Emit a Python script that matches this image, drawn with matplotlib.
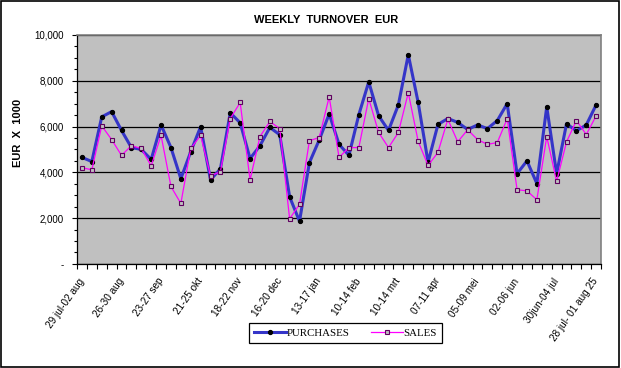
import numpy as np
import matplotlib.pyplot as plt
from matplotlib.ticker import FuncFormatter, MultipleLocator
from matplotlib.patches import Rectangle

plt.rcParams['font.family'] = 'Liberation Sans'

# weekly values, EUR x 1000 (53 weeks)
purchases = [4650, 4470, 6420, 6650, 5830, 5080, 5000, 4560, 6070, 5080,
             3720, 4900, 5990, 3670, 4150, 6600, 6160, 4600, 5160, 5960,
             5640, 2930, 1860, 4420, 5420, 6550, 5220, 4740, 6520, 7950,
             6470, 5830, 6950, 9140, 7050, 4440, 6090, 6350, 6180, 5870,
             6070, 5910, 6260, 7000, 3940, 4500, 3510, 6860, 3940, 6120,
             5810, 6070, 6950]
sales = [4200, 4110, 6030, 5430, 4740, 5160, 5040, 4280, 5610, 3380,
         2640, 5040, 5610, 3850, 4020, 6350, 7050, 3670, 5560, 6220,
         5910, 1970, 2600, 5380, 5520, 7300, 4650, 5080, 5080, 7220,
         5740, 5080, 5740, 7480, 5350, 4300, 4870, 6320, 5330, 5860,
         5430, 5220, 5300, 6340, 3240, 3190, 2800, 5560, 3600, 5330,
         6260, 5650, 6470]
week_labels = ['29 jul-02 aug', '26-30 aug', '23-27 sep', '21-25 okt',
               '18-22 nov', '16-20 dec', '13-17 jan', '10-14 feb',
               '10-14 mrt', '07-11 apr', '05-09 mei', '02-06 jun',
               '30jun-04 jul', '28 jul- 01 aug 25']

x = np.arange(len(purchases))

fig = plt.figure(figsize=(6.21, 3.68), dpi=100)
ax = fig.add_axes([0.124, 0.283, 0.844, 0.622])
ax.set_facecolor('#C0C0C0')

ax.plot(x, purchases, color='#3535C8', lw=2.2, marker='o', ms=2.8,
        mfc='black', mec='black', label='PURCHASES', zorder=3)
ax.plot(x, sales, color='#FF00FF', lw=0.9, marker='s', ms=3.0,
        mfc='#C0C0C0', mec='#600060', mew=0.8, label='SALES', zorder=4)

ax.set_xlim(-0.5, len(x) - 0.5)
ax.set_ylim(0, 10000)

# y axis
ax.yaxis.set_major_locator(MultipleLocator(2000))
ax.yaxis.set_minor_locator(MultipleLocator(500))
ax.yaxis.set_major_formatter(FuncFormatter(lambda v, p: '-' if v == 0 else f'{v:,.0f}'))
ax.grid(axis='y', color='black', lw=0.9)
ax.tick_params(axis='y', which='both', direction='out', length=3.5, width=0.8,
               labelsize=7, pad=6)
ax.tick_params(axis='y', which='minor', length=2.5)

# x axis: ticks between categories, labels every 4 weeks
ax.set_xticks(x[::4])
ax.set_xticklabels(week_labels, rotation=55, ha='right', va='center',
                   rotation_mode='anchor', fontsize=7.2)
ax.set_xticks(np.arange(len(x) + 1) - 0.5, minor=True)
ax.tick_params(axis='x', which='major', length=0, pad=11)
ax.tick_params(axis='x', which='minor', direction='out', length=3.5, width=0.8)

for s in ['top', 'right']:
    ax.spines[s].set_color('#808080')
    ax.spines[s].set_linewidth(1.2)
for s in ['left', 'bottom']:
    ax.spines[s].set_color('black')
    ax.spines[s].set_linewidth(0.9)

fig.text(0.525, 0.946, 'WEEKLY  TURNOVER  EUR', ha='center', va='center',
         fontsize=8, fontweight='bold')
fig.text(0.029, 0.638, 'EUR  X  1000', rotation=90, ha='center', va='center',
         fontsize=8, fontweight='bold')

leg = ax.legend(loc='center', bbox_to_anchor=(0.556, 0.095),
                bbox_transform=fig.transFigure, ncol=2, fancybox=False,
                framealpha=1, edgecolor='black', handlelength=3.0,
                columnspacing=2.0, handletextpad=0.0, borderpad=0.45,
                borderaxespad=0, prop={'family': 'Liberation Serif', 'size': 7.8})
leg.get_frame().set_linewidth(0.9)

fig.patches.append(Rectangle((0.001, 0.003), 0.996, 0.994, transform=fig.transFigure,
                             fill=False, edgecolor='black', lw=1.2))

fig.savefig('out.png', dpi=100)
